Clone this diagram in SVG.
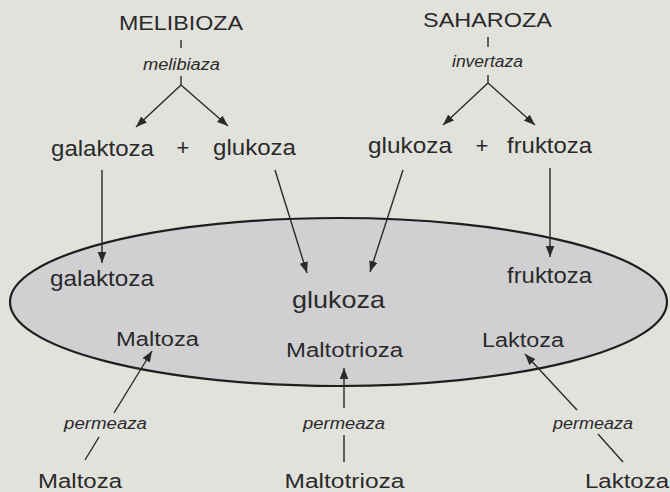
<svg xmlns="http://www.w3.org/2000/svg" width="670" height="492" viewBox="0 0 670 492">
  <defs>
    <style>
      text { font-family: "Liberation Sans", Arial, Helvetica, sans-serif; fill: #2a2a2a; text-anchor: middle; }
      .big { font-size: 21px; }
      .lbl { font-size: 22px; }
      .sm { font-size: 20px; }
      .enz { font-size: 16px; font-style: italic; }
      .ln { stroke: #2a2a2a; stroke-width: 1.4; fill: none; }
      .arr { marker-end: url(#head); }
    </style>
    <marker id="head" markerUnits="userSpaceOnUse" markerWidth="12" markerHeight="9" refX="11" refY="4.25" orient="auto">
      <path d="M0,0 L11,4.25 L0,8.5 Z" fill="#2a2a2a"/>
    </marker>
  </defs>

  <!-- paper -->
  <rect width="670" height="492" fill="#e2e2dc"/>

  <!-- cell -->
  <g id="cell">
    <ellipse cx="338.5" cy="302" rx="328.5" ry="84" fill="#d0d0d2" stroke="#1e1e1e" stroke-width="2.2"/>
  </g>

  <!-- outside sugars and enzymes -->
  <g id="melibioza"><text class="big" x="181" y="30" textLength="124" lengthAdjust="spacingAndGlyphs">MELIBIOZA</text></g>
  <g id="melibiaza"><text class="enz" x="181.5" y="70" textLength="77" lengthAdjust="spacingAndGlyphs">melibiaza</text></g>
  <g id="galaktoza-out"><text class="lbl" x="102.5" y="156" textLength="103" lengthAdjust="spacingAndGlyphs">galaktoza</text></g>
  <g id="plus-1"><text class="lbl" x="183" y="155">+</text></g>
  <g id="glukoza-out-1"><text class="lbl" x="254.5" y="155" textLength="83" lengthAdjust="spacingAndGlyphs">glukoza</text></g>

  <g id="saharoza"><text class="big" x="487.5" y="27" textLength="129" lengthAdjust="spacingAndGlyphs">SAHAROZA</text></g>
  <g id="invertaza"><text class="enz" x="487.5" y="67" textLength="71" lengthAdjust="spacingAndGlyphs">invertaza</text></g>
  <g id="glukoza-out-2"><text class="lbl" x="410" y="153" textLength="84" lengthAdjust="spacingAndGlyphs">glukoza</text></g>
  <g id="plus-2"><text class="lbl" x="482" y="153">+</text></g>
  <g id="fruktoza-out"><text class="lbl" x="549.5" y="153" textLength="85" lengthAdjust="spacingAndGlyphs">fruktoza</text></g>

  <!-- inside the cell -->
  <g id="galaktoza-in"><text class="lbl" x="102" y="286" textLength="104" lengthAdjust="spacingAndGlyphs">galaktoza</text></g>
  <g id="glukoza-in"><text class="lbl" style="font-size:24px" x="338.5" y="308" textLength="93" lengthAdjust="spacingAndGlyphs">glukoza</text></g>
  <g id="fruktoza-in"><text class="lbl" x="549.5" y="283" textLength="85" lengthAdjust="spacingAndGlyphs">fruktoza</text></g>
  <g id="maltoza-in"><text class="sm" x="157.5" y="346" textLength="83" lengthAdjust="spacingAndGlyphs">Maltoza</text></g>
  <g id="maltotrioza-in"><text class="sm" x="344.5" y="357" textLength="117" lengthAdjust="spacingAndGlyphs">Maltotrioza</text></g>
  <g id="laktoza-in"><text class="sm" x="523" y="347" textLength="82" lengthAdjust="spacingAndGlyphs">Laktoza</text></g>

  <!-- transport across the membrane -->
  <g id="permeaza-1"><text class="enz" x="105.5" y="429" textLength="83" lengthAdjust="spacingAndGlyphs">permeaza</text></g>
  <g id="permeaza-2"><text class="enz" x="344" y="429" textLength="82" lengthAdjust="spacingAndGlyphs">permeaza</text></g>
  <g id="permeaza-3"><text class="enz" x="593" y="429" textLength="80" lengthAdjust="spacingAndGlyphs">permeaza</text></g>
  <g id="maltoza-out"><text class="sm" x="80" y="488" textLength="84" lengthAdjust="spacingAndGlyphs">Maltoza</text></g>
  <g id="maltotrioza-out"><text class="sm" x="344.5" y="488" textLength="120" lengthAdjust="spacingAndGlyphs">Maltotrioza</text></g>
  <g id="laktoza-out"><text class="sm" x="627" y="488" textLength="84" lengthAdjust="spacingAndGlyphs">Laktoza</text></g>

  <!-- connectors -->
  <g id="connectors" class="ln">
    <line x1="181" y1="40" x2="181" y2="48"/>
    <line x1="181" y1="76" x2="181" y2="85"/>
    <line class="arr" x1="181" y1="85" x2="136" y2="127"/>
    <line class="arr" x1="181" y1="85" x2="228" y2="126"/>

    <line x1="488" y1="37" x2="488" y2="47"/>
    <line x1="488" y1="75" x2="488" y2="83"/>
    <line class="arr" x1="488" y1="83" x2="443" y2="125"/>
    <line class="arr" x1="488" y1="83" x2="535" y2="125"/>

    <line class="arr" x1="102" y1="170" x2="102" y2="263"/>
    <line class="arr" x1="275" y1="170" x2="307" y2="273"/>
    <line class="arr" x1="403" y1="170" x2="370" y2="272"/>
    <line class="arr" x1="550" y1="168" x2="550" y2="257"/>

    <line class="arr" x1="114" y1="413" x2="152" y2="351"/>
    <line x1="99" y1="437" x2="85" y2="460"/>

    <line class="arr" x1="344" y1="408" x2="344" y2="368"/>
    <line x1="344" y1="435" x2="344" y2="462"/>

    <line class="arr" x1="577" y1="410" x2="525" y2="354"/>
    <line x1="598" y1="434" x2="623" y2="462"/>
  </g>
</svg>
